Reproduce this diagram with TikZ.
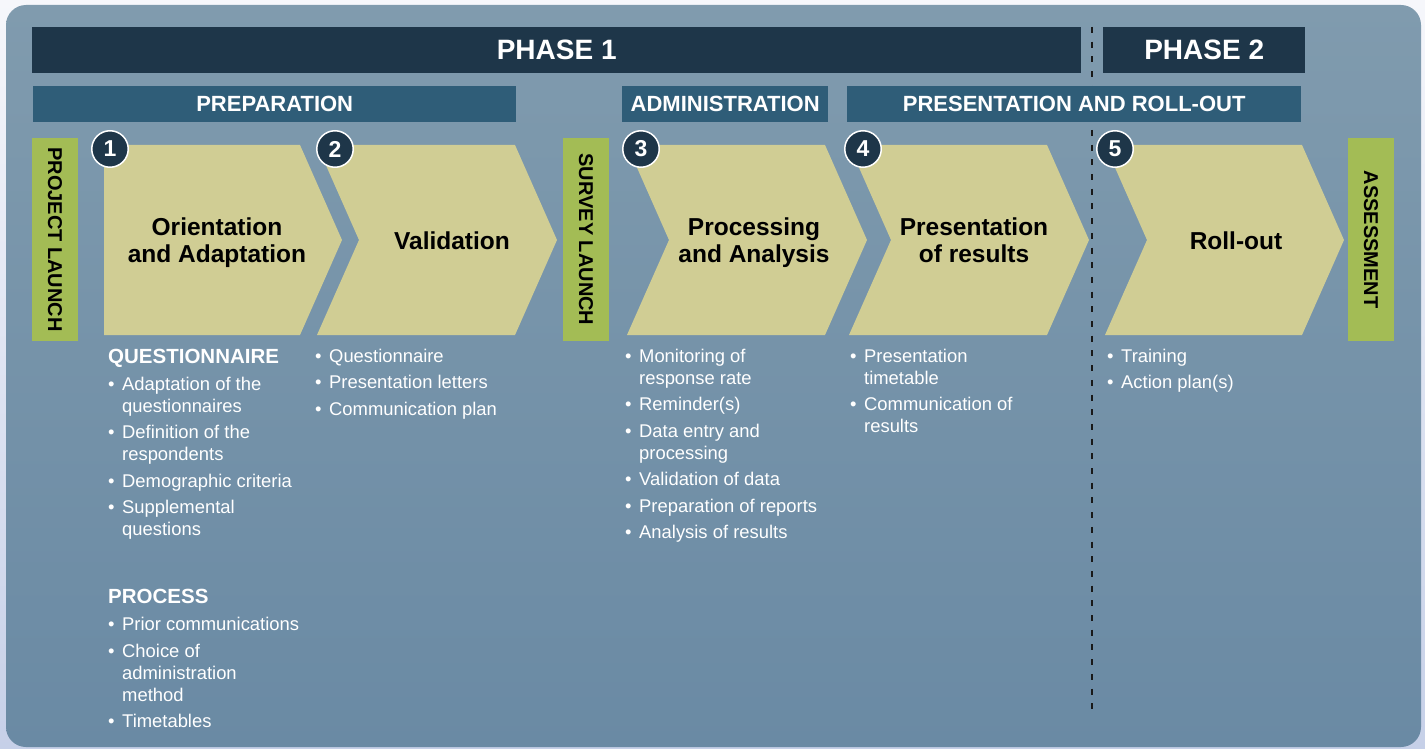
\documentclass[tikz,border=0pt]{standalone}
\usepackage{fontspec}
\setmainfont{Liberation Sans}
\definecolor{dark}{HTML}{1E3649}
\definecolor{mid}{HTML}{2F5D78}
\definecolor{grn}{HTML}{A3BC55}
\definecolor{chev}{HTML}{D0CD94}
\definecolor{bgtop}{HTML}{809BAE}
\definecolor{bgbot}{HTML}{6A8AA4}
\definecolor{pagetop}{HTML}{F6F7FB}
\definecolor{pagebot}{HTML}{C6D0E8}
\newcommand\bu{\makebox[14pt][l]{•}}
\newcommand\hd{\fontsize{20.5}{22}\selectfont\bfseries}
\newcommand\chevshape[3]{\fill[chev] (#1,145) -- (#2,145) -- ({#2+42},240) -- (#2,335) -- (#1,335) -- ({#1+#3},240) -- cycle;}
\begin{document}
\begin{tikzpicture}[x=1pt,y=-1pt,
  phasebar/.style={fill=dark, text=white, font=\fontsize{28}{30}\selectfont\bfseries, inner sep=0, anchor=north west},
  stagebar/.style={fill=mid, text=white, font=\fontsize{22}{24}\selectfont\bfseries, inner sep=0, anchor=north west, minimum height=36pt},
  greenbar/.style={fill=grn, text=black, font=\fontsize{20}{22}\selectfont\bfseries, inner sep=0, rotate=-90, minimum width=203pt, minimum height=46pt},
  numcirc/.style={circle, fill=dark, draw=white, line width=1.5pt, minimum size=36.5pt, inner sep=0, text=white, font=\fontsize{23}{24}\selectfont\bfseries},
  steptitle/.style={anchor=base, inner sep=0, text=black, font=\fontsize{24.5}{28}\selectfont\bfseries},
  bullets/.style={anchor=base west, inner sep=0, text=white, font=\fontsize{18.4}{22}\selectfont},
  dashline/.style={draw=black!90, line width=2pt, dash pattern=on 6pt off 8.7pt}
]
\useasboundingbox (0,0) rectangle (1425,749);
\shade[top color=pagetop, bottom color=pagebot] (0,0) rectangle (1425,749);
\shade[top color=bgtop, bottom color=bgbot, rounded corners=20pt] (6,5) rectangle (1421,747);

% phase divider
\coordinate (dtop) at (1092,27);
\coordinate (dbot) at (1092,712);
\draw[dashline] (dtop) -- (dbot);

% phase bars
\node[phasebar, minimum width=1049pt, minimum height=46pt] (p1) at (32,27) {PHASE 1};
\node[phasebar, minimum width=202pt, minimum height=46pt] (p2) at (1103,27) {PHASE 2};

% stage bars
\node[stagebar, minimum width=483pt] (s1) at (33,86) {PREPARATION};
\node[stagebar, minimum width=206pt] (s2) at (622,86) {ADMINISTRATION};
\node[stagebar, minimum width=454pt] (s3) at (847,86) {PRESENTATION AND ROLL-OUT};

% milestone bars
\node[greenbar] (g1) at (55,239.5) {PROJECT LAUNCH};
\node[greenbar] (g2) at (586,239.5) {SURVEY LAUNCH};
\node[greenbar] (g3) at (1371,239.5) {ASSESSMENT};

% chevrons
\chevshape{104}{300}{0}
\chevshape{317}{515}{42}
\chevshape{627}{825}{42}
\chevshape{849}{1047}{42}
\chevshape{1105}{1302}{42}

% step titles
\node[steptitle] (t1) at (217,235) {\begin{tabular}[t]{@{}c@{}}Orientation\\and Adaptation\end{tabular}};
\node[steptitle] (t2) at (452,249) {Validation};
\node[steptitle] (t3) at (754,235) {\begin{tabular}[t]{@{}c@{}}Processing\\and Analysis\end{tabular}};
\node[steptitle] (t4) at (974,235) {\begin{tabular}[t]{@{}c@{}}Presentation\\of results\end{tabular}};
\node[steptitle] (t5) at (1236,249) {Roll-out};

% number circles
\node[numcirc] (n1) at (110,149) {1};
\node[numcirc] (n2) at (335,149) {2};
\node[numcirc] (n3) at (641,149) {3};
\node[numcirc] (n4) at (863,149) {4};
\node[numcirc] (n5) at (1115,149) {5};

% bullet lists
\node[bullets] (b1) at (108,363) {\begin{tabular}[t]{@{}l@{}l@{}}
\multicolumn{2}{@{}l@{}}{\hd QUESTIONNAIRE}\\[5pt]
\bu & Adaptation of the\\
 & questionnaires\\[4.5pt]
\bu & Definition of the\\
 & respondents\\[4.5pt]
\bu & Demographic criteria\\[4.5pt]
\bu & Supplemental\\
 & questions\\[46pt]
\multicolumn{2}{@{}l@{}}{\hd PROCESS}\\[5pt]
\bu & Prior communications\\[4.5pt]
\bu & Choice of\\
 & administration\\
 & method\\[4.5pt]
\bu & Timetables
\end{tabular}};

\node[bullets] (b2) at (315,362) {\begin{tabular}[t]{@{}l@{}l@{}}
\bu & Questionnaire\\[4.5pt]
\bu & Presentation letters\\[4.5pt]
\bu & Communication plan
\end{tabular}};

\node[bullets] (b3) at (625,362) {\begin{tabular}[t]{@{}l@{}l@{}}
\bu & Monitoring of\\
 & response rate\\[4.5pt]
\bu & Reminder(s)\\[4.5pt]
\bu & Data entry and\\
 & processing\\[4.5pt]
\bu & Validation of data\\[4.5pt]
\bu & Preparation of reports\\[4.5pt]
\bu & Analysis of results
\end{tabular}};

\node[bullets] (b4) at (850,362) {\begin{tabular}[t]{@{}l@{}l@{}}
\bu & Presentation\\
 & timetable\\[4.5pt]
\bu & Communication of\\
 & results
\end{tabular}};

\node[bullets] (b5) at (1107,362) {\begin{tabular}[t]{@{}l@{}l@{}}
\bu & Training\\[4.5pt]
\bu & Action plan(s)
\end{tabular}};
\end{tikzpicture}
\end{document}
